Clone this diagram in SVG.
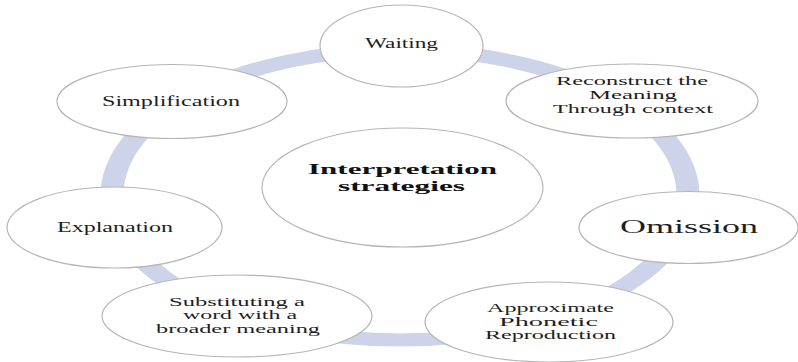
<svg xmlns="http://www.w3.org/2000/svg" width="798" height="362" viewBox="0 0 798 362">
<style>
.node{fill:#ffffff;stroke:#b5b5b5;stroke-width:1.2}
.t{font-family:"Liberation Serif","Times New Roman",serif;font-size:12px;fill:#1e1e1e;text-anchor:middle}
.m{font-size:14px}
.big{font-size:19px}
.b{font-weight:bold;font-size:15px;fill:#111}
.ring{fill:#cdd4ea;fill-rule:evenodd}
</style>
<rect width="798" height="362" fill="#ffffff"/>
<g id="connectors">
<path class="ring" d="M100.5 195a299.5 151.5 0 1 0 599 0a299.5 151.5 0 1 0 -599 0Z M123.5 195a276.5 138.5 0 1 0 553 0a276.5 138.5 0 1 0 -553 0Z"/>
</g>
<g id="center">
<ellipse class="node" cx="402.5" cy="187.5" rx="140.5" ry="59.5"/>
<text class="t b" x="402.5" y="174" textLength="189" lengthAdjust="spacingAndGlyphs">Interpretation</text>
<text class="t b" x="401.5" y="191" textLength="127" lengthAdjust="spacingAndGlyphs">strategies</text>
</g>
<g id="waiting">
<ellipse class="node" cx="401.5" cy="46" rx="81.5" ry="41"/>
<text class="t m" x="401.5" y="48" textLength="73" lengthAdjust="spacingAndGlyphs">Waiting</text>
</g>
<g id="simplification">
<ellipse class="node" cx="172" cy="101.5" rx="115" ry="37"/>
<text class="t m" x="171" y="106" textLength="138" lengthAdjust="spacingAndGlyphs">Simplification</text>
</g>
<g id="reconstruct">
<ellipse class="node" cx="632" cy="101" rx="126" ry="37"/>
<text class="t" x="632" y="85" textLength="152" lengthAdjust="spacingAndGlyphs">Reconstruct the</text>
<text class="t" x="633" y="99" textLength="88" lengthAdjust="spacingAndGlyphs">Meaning</text>
<text class="t" x="633" y="113" textLength="160" lengthAdjust="spacingAndGlyphs">Through context</text>
</g>
<g id="explanation">
<ellipse class="node" cx="114.5" cy="227.5" rx="107.5" ry="40.5"/>
<text class="t m" x="115" y="232" textLength="116" lengthAdjust="spacingAndGlyphs">Explanation</text>
</g>
<g id="omission">
<ellipse class="node" cx="688.5" cy="227.5" rx="109.5" ry="36"/>
<text class="t big" x="689" y="233" textLength="138" lengthAdjust="spacingAndGlyphs">Omission</text>
</g>
<g id="substituting">
<ellipse class="node" cx="237" cy="316" rx="135" ry="41"/>
<text class="t" x="237" y="305.5" textLength="136" lengthAdjust="spacingAndGlyphs">Substituting a</text>
<text class="t" x="240" y="319" textLength="114" lengthAdjust="spacingAndGlyphs">word with a</text>
<text class="t" x="238" y="332.5" textLength="164" lengthAdjust="spacingAndGlyphs">broader meaning</text>
</g>
<g id="approximate">
<ellipse class="node" cx="549" cy="322" rx="124" ry="40"/>
<text class="t" x="550.5" y="312" textLength="127" lengthAdjust="spacingAndGlyphs">Approximate</text>
<text class="t" x="548.5" y="325.5" textLength="99" lengthAdjust="spacingAndGlyphs">Phonetic</text>
<text class="t" x="550.5" y="339" textLength="131" lengthAdjust="spacingAndGlyphs">Reproduction</text>
</g>
</svg>
